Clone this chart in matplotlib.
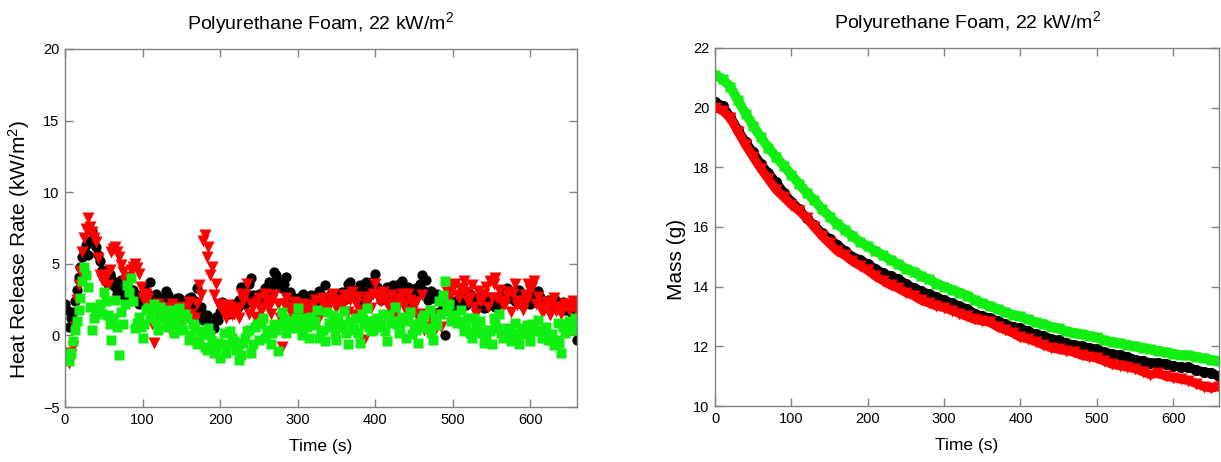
import numpy as np
import matplotlib
matplotlib.use("Agg")
import matplotlib.pyplot as plt

plt.rcParams['font.family'] = ['Liberation Sans', 'DejaVu Sans']
plt.rcParams['mathtext.fontset'] = 'custom'
plt.rcParams['mathtext.rm'] = 'Liberation Sans'
plt.rcParams['mathtext.it'] = 'Liberation Sans'

# ---------------- data ----------------
hrr_time = list(range(0, 661, 5))
hrr_time_mid = [t + 2.5 for t in range(0, 660, 5)]

hrr_black = [
    2.2, 0.6, 1.6, 3.2, 4.8, 5.9, 5.6, 7.3, 6.2, 5.2, 4.1, 3.6, 4.0, 3.4, 3.2, 2.8, 3.5, 2.6, 2.9, 2.2, 2.6,
    3.0, 3.7, 2.6, 2.4, 2.1, 3.1, 2.5, 2.2, 2.6, 2.0, 2.4, 2.6, 1.9, 3.3, 2.0, 1.4, 0.9, 0.6, 1.3, 1.6,
    1.9, 1.5, 2.1, 1.8, 2.5, 3.1, 2.7, 4.0, 2.6, 2.9, 2.5, 3.0, 3.4, 4.4, 3.8, 3.3, 4.1, 3.0, 2.4, 2.6,
    2.2, 2.7, 2.3, 2.5, 2.0, 2.8, 3.5, 2.4, 2.6, 2.3, 2.8, 2.5, 3.6, 3.2, 2.7, 3.5, 3.0, 2.6, 3.3, 4.3,
    3.0, 2.7, 3.4, 2.9, 3.1, 3.6, 3.8, 2.6, 3.1, 2.4, 2.9, 4.2, 3.9, 2.8, 2.6, 2.9, 2.3, 0.0, 2.5, 2.0,
    1.8, 2.6, 2.2, 2.8, 2.4, 2.1, 2.7, 1.9, 2.5, 2.2, 2.0, 2.6, 2.3, 3.3, 2.8, 2.4, 3.2, 2.1, 2.6, 2.2,
    2.8, 3.1, 2.4, 2.0, 2.3, 2.6, 1.9, 2.2, 1.8, 2.1, 1.3, -0.3,
]
hrr_black_mid = [
    1.8, 1.2, 2.4, 4.1, 5.5, 6.3, 6.6, 6.8, 5.6, 4.6, 3.8, 4.3, 3.7, 2.9, 3.9, 3.1, 2.4, 3.2, 2.5, 2.8,
    3.4, 2.8, 2.2, 2.9, 2.6, 2.3, 2.8, 1.9, 2.4, 2.6, 2.2, 1.8, 2.7, 2.4, 1.7, 1.1, 1.4, 0.8, 0.5, 1.1,
    2.3, 1.6, 1.9, 2.2, 2.0, 3.4, 2.2, 3.6, 2.8, 2.4, 2.8, 3.3, 3.7, 3.0, 4.2, 3.5, 3.6, 2.8, 2.7, 2.2,
    2.4, 2.9, 2.0, 2.8, 2.3, 3.1, 2.6, 2.2, 2.9, 2.6, 2.4, 3.0, 2.8, 3.7, 2.9, 3.2, 2.4, 3.7, 2.9, 3.8,
    3.4, 2.5, 3.1, 2.7, 3.5, 3.2, 3.0, 2.8, 3.4, 2.2, 3.3, 3.6, 3.1, 2.5, 3.1, 2.7, 1.6, 2.2, 1.8, 2.3,
    2.4, 2.0, 2.5, 2.1, 2.9, 2.6, 2.3, 2.4, 2.0, 2.7, 2.5, 2.1, 2.9, 3.0, 2.6, 2.9, 2.5, 2.8, 2.3, 2.5,
    2.5, 2.9, 2.7, 2.2, 2.5, 2.1, 2.4, 2.0, 2.3, 1.9, 1.6, 0.9,
]

hrr_red = [
    -1.2, -1.9, -0.8, 2.5, 4.5, 6.8, 8.2, 7.2, 6.5, 4.2, 3.8, 3.5, 5.8, 6.2, 5.5, 4.4, 3.6, 4.6, 5.0, 4.3, 2.6,
    2.9, 1.8, -0.5, 2.2, 1.3, 1.9, 0.4, 1.6, 2.0, 1.2, 1.7, 2.3, 0.8, 2.2, 2.8, 7.0, 6.2, 4.8, 3.6, 2.0,
    1.6, 2.1, 1.4, 1.9, 1.2, 2.4, 3.6, 2.2, 1.3, 2.6, 2.0, 2.4, 1.5, 2.8, 2.2, -0.8, 2.6, 1.8, 2.3, 1.6,
    2.0, 1.3, 1.8, 2.1, 1.5, 2.3, 1.7, 2.2, 2.9, 1.9, 2.4, 2.8, 1.6, 3.0, 2.2, 1.8, -0.3, 2.5, 1.9, 3.6,
    2.5, 3.0, 2.2, 2.8, 1.5, 2.4, 2.9, 1.7, 2.5, 2.2, 1.2, 2.8, 0.5, 0.2, 0.8, 1.1, 0.6, 2.0, 2.6, 3.5,
    2.8, 3.2, 3.8, 2.3, 3.5, 1.5, 2.4, 2.9, 2.0, 2.6, 4.0, 3.2, 2.1, 2.8, 1.6, 3.6, 2.4, 1.8, 2.5, 3.2,
    3.8, 2.7, 1.6, 2.3, 1.4, 2.6, 2.0, 1.5, 2.2, 1.8, 2.4, 1.6,
]
hrr_red_mid = [
    -1.6, -1.4, 0.6, 3.5, 5.8, 7.4, 7.6, 6.8, 5.4, 3.9, 4.2, 4.6, 6.0, 5.8, 4.9, 3.8, 4.1, 4.8, 4.7, 3.4,
    2.4, 2.6, 0.8, 1.5, 2.0, 1.1, 1.4, 2.2, 1.5, 1.9, 1.4, 2.0, 1.5, 1.2, 3.5, 6.6, 5.5, 4.2, 2.8, 2.2,
    1.8, 1.2, 2.0, 1.5, 1.8, 2.9, 2.8, 1.5, 2.0, 2.3, 1.7, 2.9, 2.0, 2.5, 0.6, 1.2, 2.2, 2.0, 1.4, 2.2,
    1.6, 2.2, 1.4, 1.9, 2.5, 1.2, 2.6, 2.0, 2.6, 2.1, 2.5, 2.0, 2.6, 2.5, 1.4, 2.7, 1.0, 2.2, 2.7, 2.9,
    2.8, 2.4, 2.6, 2.0, 2.2, 2.6, 2.3, 2.1, 2.9, 1.6, 2.3, 1.5, 0.4, 0.6, 1.3, 0.4, 1.4, 2.4, 3.0, 3.3,
    3.6, 2.6, 3.3, 3.0, 2.7, 2.0, 3.1, 2.5, 3.4, 3.8, 3.6, 2.6, 2.4, 2.2, 3.0, 2.9, 2.1, 2.2, 2.8, 3.6,
    3.4, 2.2, 2.0, 1.8, 2.0, 2.3, 1.7, 1.9, 2.0, 2.2, 1.9, 2.0,
]

hrr_green = [
    -1.3, -1.8, -0.4, 1.0, 2.6, 4.8, 3.4, 0.4, 1.6, 2.2, 3.0, 1.4, -0.3, 2.5, -1.4, 0.8, 3.5, 4.0, 0.5, 1.3, -0.2,
    1.8, 1.2, 2.2, 0.4, 1.6, 0.9, 1.8, 0.2, 1.3, 0.6, 1.5, -0.3, 0.8, -0.6, 0.3, -0.8, 0.5, -0.4, -0.9, -1.6,
    0.2, -0.7, -0.2, -1.0, -1.7, -0.5, 0.3, -1.2, 0.6, -0.3, 1.2, 0.4, -0.6, 0.8, -1.1, 1.6, 0.2, 1.0, 0.5, 1.9,
    0.0, 1.2, -0.2, 0.7, 1.8, 0.3, -0.4, 0.9, 1.4, -0.3, 0.6, 1.7, -0.6, 0.4, 1.2, -0.5, 0.8, 1.9, 0.3, 1.1,
    0.6, 1.5, -0.4, 0.9, 2.0, 0.2, 1.3, -0.2, 1.6, 0.8, -0.5, 1.2, 0.5, 1.8, -0.3, 0.7, 1.5, 3.8, 2.2, 1.4,
    0.9, 1.8, 0.3, 1.2, -0.2, 0.6, 1.0, -0.5, 0.4, -0.6, 0.8, 1.5, -0.2, 0.5, -0.4, 0.9, -0.6, 0.2, 0.7, -0.4,
    0.3, 1.1, -0.2, 0.6, 0.0, -0.7, 0.9, -1.2, 0.2, 1.0, 0.4, 0.7,
]
hrr_green_mid = [
    -1.6, -1.2, 0.4, 1.8, 3.8, 4.2, 2.0, 1.2, 1.9, 1.5, 2.4, 0.8, 1.2, 0.6, 1.6, 2.2, 3.0, 2.4, 0.9, 0.6,
    0.8, 1.9, 1.5, 1.0, 2.0, 1.4, 0.6, 1.1, 0.8, 1.9, 0.4, 1.2, 0.0, 0.6, -0.4, 0.1, -1.0, 0.0, -1.2, -0.5,
    -0.6, -1.2, 0.3, -0.4, -0.9, -1.4, -0.2, 0.4, -0.6, 0.8, 0.9, -0.2, 0.2, 0.2, 0.4, 0.7, 1.2, 0.6, 0.9, 1.2,
    0.9, 0.5, 0.6, 1.3, 1.0, -0.2, 0.4, 1.6, 0.6, 0.1, 1.2, 0.8, 0.2, 1.0, 0.5, 0.2, 1.5, 1.0, 0.6, 0.4,
    1.2, 0.8, 0.3, 1.4, 1.0, 0.8, 0.4, 1.0, 1.2, 0.1, 0.4, 0.9, 1.4, 0.5, 0.2, 1.2, 2.4, 2.8, 1.8, 1.0,
    1.4, 1.0, 0.8, 0.5, 0.2, 1.2, 0.3, 0.2, -0.1, 0.3, 1.2, 0.5, 0.2, 0.1, 0.3, 0.2, -0.2, 0.5, 0.1, 0.2,
    0.8, 0.4, 0.3, 0.2, -0.3, 0.1, -0.3, -0.5, 0.6, 0.8, 0.6, 1.2,
]

mass_time = list(range(0, 661, 10))

mass_black = [
    20.2, 20.05, 19.7, 19.25, 18.85, 18.5, 18.1, 17.8, 17.5, 17.15, 16.85,
    16.6, 16.3, 16.05, 15.8, 15.6, 15.4, 15.2, 15.0, 14.9, 14.75,
    14.6, 14.45, 14.35, 14.25, 14.1, 13.95, 13.85, 13.75, 13.65, 13.55,
    13.45, 13.35, 13.25, 13.1, 13.0, 12.95, 12.85, 12.75, 12.65, 12.6,
    12.5, 12.4, 12.35, 12.25, 12.2, 12.1, 12.05, 12.0, 11.95, 11.9,
    11.8, 11.75, 11.7, 11.65, 11.55, 11.5, 11.45, 11.45, 11.4, 11.35,
    11.3, 11.3, 11.2, 11.15, 11.1, 11.0,
]

mass_red = [
    20.0, 19.9, 19.65, 19.2, 18.75, 18.35, 17.95, 17.6, 17.25, 17.0, 16.75,
    16.55, 16.3, 16.0, 15.7, 15.45, 15.2, 15.05, 14.85, 14.7, 14.55,
    14.35, 14.2, 14.05, 13.95, 13.8, 13.7, 13.55, 13.45, 13.35, 13.3,
    13.2, 13.1, 13.0, 12.9, 12.85, 12.8, 12.65, 12.55, 12.45, 12.3,
    12.25, 12.15, 12.05, 11.95, 11.9, 11.85, 11.8, 11.7, 11.65, 11.6,
    11.5, 11.4, 11.35, 11.3, 11.25, 11.15, 11.05, 11.1, 11.0, 10.95,
    10.9, 10.85, 10.75, 10.65, 10.6, 10.65,
]

mass_green = [
    21.1, 20.95, 20.7, 20.25, 19.8, 19.4, 19.0, 18.65, 18.35, 18.05, 17.75,
    17.45, 17.15, 16.9, 16.6, 16.35, 16.1, 15.9, 15.7, 15.5, 15.35,
    15.2, 15.05, 14.9, 14.75, 14.6, 14.5, 14.35, 14.25, 14.1, 14.0,
    13.9, 13.8, 13.7, 13.55, 13.45, 13.35, 13.25, 13.15, 13.05, 13.0,
    12.9, 12.8, 12.75, 12.65, 12.6, 12.5, 12.45, 12.4, 12.35, 12.3,
    12.2, 12.15, 12.1, 12.05, 12.0, 11.95, 11.9, 11.85, 11.8, 11.75,
    11.7, 11.7, 11.65, 11.6, 11.55, 11.5,
]

title = 'Polyurethane Foam, 22 kW/m$^2$'
x_ticks = [0, 100, 200, 300, 400, 500, 600]
hrr_yticks = [-5, 0, 5, 10, 15, 20]
mass_yticks = [10, 12, 14, 16, 18, 20, 22]

BLACK = '#000000'
RED = '#ff0000'
GREEN = '#11ee11'
SPINE = '#808080'


def merged(t1, v1, t2, v2):
    t = np.concatenate([np.asarray(t1, float), np.asarray(t2, float)])
    v = np.concatenate([np.asarray(v1, float), np.asarray(v2, float)])
    order = np.argsort(t)
    return t[order], v[order]


# ---------------- figure ----------------
fig = plt.figure(figsize=(12.21, 4.62), dpi=100)
ax1 = fig.add_axes([0.0532, 0.119, 0.4193, 0.775])
ax2 = fig.add_axes([0.5856, 0.1212, 0.4128, 0.775])


def style(ax):
    for s in ax.spines.values():
        s.set_color(SPINE)
        s.set_linewidth(1.0)
    ax.tick_params(direction='in', length=6, width=1, color=SPINE,
                   top=True, right=True, labelsize=10.5, pad=4)
    ax.set_xlabel('Time (s)', fontsize=12.5, labelpad=9)
    ax.set_title(title, fontsize=14, pad=14)


ms = 7.4
tb, vb = merged(hrr_time, hrr_black, hrr_time_mid, hrr_black_mid)
tr, vr = merged(hrr_time, hrr_red, hrr_time_mid, hrr_red_mid)
tg, vg = merged(hrr_time, hrr_green, hrr_time_mid, hrr_green_mid)
ax1.plot(tb, vb, 'o', color=BLACK, ms=ms, mec='none')
ax1.plot(tr, vr, 'v', color=RED, ms=ms + 1.0, mec='none')
ax1.plot(tg, vg, 's', color=GREEN, ms=ms - 0.4, mec='none')
ax1.set_xlim(0, 660)
ax1.set_ylim(-5, 20)
ax1.set_xticks(x_ticks)
ax1.set_yticks(hrr_yticks)
ax1.set_ylabel('Heat Release Rate (kW/m$^2$)', fontsize=15)
style(ax1)
ax1.yaxis.set_label_coords(-0.064, 0.44)

ax2.plot(mass_time, mass_black, '-o', color=BLACK, ms=8, lw=6.5, mec='none')
ax2.plot(mass_time, mass_red, '-v', color=RED, ms=8.5, lw=6.5, mec='none')
ax2.plot(mass_time, mass_green, '-s', color=GREEN, ms=7.5, lw=7, mec='none')
ax2.set_xlim(0, 660)
ax2.set_ylim(10, 22)
ax2.set_xticks(x_ticks)
ax2.set_yticks(mass_yticks)
ax2.set_ylabel('Mass (g)', fontsize=15)
style(ax2)
ax2.yaxis.set_label_coords(-0.058, 0.41)

fig.savefig('out.png', dpi=100)
